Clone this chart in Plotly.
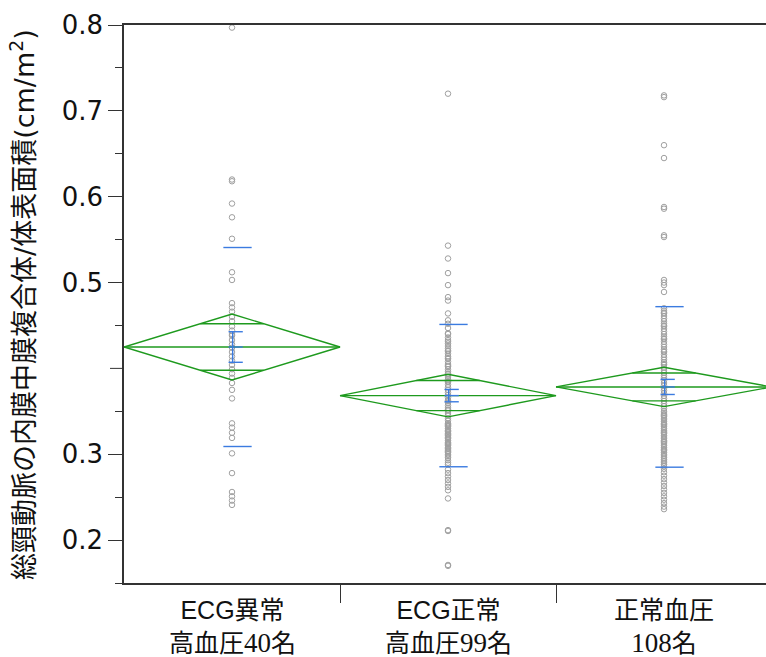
import plotly.graph_objects as go
import math

cat_line1 = ["ECG異常", "ECG正常", "正常血圧"]
cat_line2_cjk = ["高血圧", "高血圧", ""]
cat_line2_num = ["40", "99", "108"]

group1 = [0.797, 0.620, 0.618, 0.592, 0.576, 0.551, 0.512, 0.503, 0.476, 0.471,
          0.466, 0.460, 0.455, 0.449, 0.444, 0.440, 0.438, 0.433, 0.428, 0.424,
          0.419, 0.414, 0.409, 0.404, 0.399, 0.394, 0.389, 0.383, 0.375, 0.365,
          0.336, 0.331, 0.325, 0.319, 0.301, 0.278, 0.256, 0.251, 0.246, 0.241]

group2 = [0.720, 0.543, 0.528, 0.511, 0.497, 0.483, 0.479, 0.464, 0.456, 0.452,
          0.447, 0.441, 0.433, 0.429, 0.426, 0.423, 0.420, 0.417, 0.414, 0.411,
          0.408, 0.405, 0.402, 0.399, 0.396, 0.393, 0.390, 0.387, 0.384, 0.381,
          0.378, 0.375, 0.372, 0.369, 0.366, 0.363, 0.360, 0.357, 0.354, 0.351,
          0.348, 0.345, 0.342, 0.339, 0.336, 0.334, 0.332, 0.330, 0.328, 0.326,
          0.324, 0.322, 0.320, 0.318, 0.316, 0.314, 0.312, 0.310, 0.308, 0.306,
          0.304, 0.302, 0.300, 0.298, 0.335, 0.327, 0.319, 0.311, 0.303, 0.296,
          0.293, 0.290, 0.288, 0.282, 0.278, 0.274, 0.270, 0.266, 0.262, 0.258,
          0.2485, 0.2116, 0.2106, 0.171, 0.170, 0.440, 0.436, 0.431, 0.421, 0.412,
          0.403, 0.394, 0.385, 0.362, 0.352, 0.333, 0.323, 0.313, 0.307]

group3 = [0.718, 0.716, 0.660, 0.645, 0.588, 0.586, 0.555, 0.553, 0.503, 0.500,
          0.497, 0.489, 0.470, 0.467, 0.464, 0.461, 0.458, 0.455, 0.452, 0.449,
          0.446, 0.443, 0.440, 0.437, 0.434, 0.431, 0.428, 0.425, 0.422, 0.419,
          0.416, 0.413, 0.410, 0.407, 0.404, 0.401, 0.398, 0.395, 0.392, 0.389,
          0.386, 0.383, 0.380, 0.377, 0.374, 0.371, 0.368, 0.365, 0.362, 0.359,
          0.356, 0.353, 0.350, 0.348, 0.346, 0.344, 0.342, 0.340, 0.338, 0.336,
          0.334, 0.332, 0.330, 0.328, 0.326, 0.324, 0.322, 0.320, 0.318, 0.316,
          0.314, 0.312, 0.310, 0.308, 0.306, 0.304, 0.302, 0.300, 0.298, 0.296,
          0.294, 0.292, 0.290, 0.288, 0.286, 0.283, 0.279, 0.275, 0.271, 0.267,
          0.263, 0.259, 0.255, 0.251, 0.247, 0.243, 0.239, 0.236, 0.465, 0.450,
          0.435, 0.420, 0.405, 0.345, 0.335, 0.325, 0.315, 0.305]

groups = [group1, group2, group3]

# summary statistics
means = [0.4249, 0.3683, 0.3784]
ci_half = [0.0384, 0.0248, 0.0229]     # 95% CI half-width (diamond)
se = [0.0178, 0.0072, 0.0088]          # std error of mean
sd = [0.1159, 0.0829, 0.0935]          # standard deviation

y_tickvals = [0.2, 0.3, 0.5, 0.6, 0.7, 0.8]
y_ticktext = ["0.2", "0.3", "0.5", "0.6", "0.7", "0.8"]
y_unlabeled_major = [0.4]
y_minor = [0.15, 0.25, 0.35, 0.45, 0.55, 0.65, 0.75]

GREEN = "#1e9a1e"
BLUE = "#3b7be0"
GRAY = "#a0a0a0"

fig = go.Figure()

# data points
for i, g in enumerate(groups):
    fig.add_trace(go.Scatter(
        x=[i] * len(g), y=g, mode="markers",
        marker=dict(symbol="circle-open", size=5.5, color=GRAY, line=dict(width=1, color=GRAY)),
        showlegend=False, hoverinfo="y"))

# means diamonds
ov = 0.5 * (1 - 1 / math.sqrt(2))
for i, (m, c) in enumerate(zip(means, ci_half)):
    fig.add_trace(go.Scatter(
        x=[i - 0.5, i, i + 0.5, i, i - 0.5],
        y=[m, m + c, m, m - c, m],
        mode="lines", line=dict(color=GREEN, width=1.4), showlegend=False, hoverinfo="skip"))
    fig.add_trace(go.Scatter(
        x=[i - 0.5, i + 0.5], y=[m, m], mode="lines",
        line=dict(color=GREEN, width=1.4), showlegend=False, hoverinfo="skip"))
    d = c / math.sqrt(2)
    for yy in (m + d, m - d):
        fig.add_trace(go.Scatter(
            x=[i - ov, i + ov], y=[yy, yy], mode="lines",
            line=dict(color=GREEN, width=1.4), showlegend=False, hoverinfo="skip"))

# std dev lines and mean error bars
for i, (m, s, e) in enumerate(zip(means, sd, se)):
    for yy in (m + s, m - s):
        fig.add_trace(go.Scatter(
            x=[i - 0.04, i + 0.091], y=[yy, yy], mode="lines",
            line=dict(color=BLUE, width=1.4), showlegend=False, hoverinfo="skip"))
    fig.add_trace(go.Scatter(
        x=[i + 0.003, i + 0.003], y=[m - e, m + e], mode="lines",
        line=dict(color=BLUE, width=1.4), showlegend=False, hoverinfo="skip"))
    for yy in (m + e, m, m - e):
        fig.add_trace(go.Scatter(
            x=[i - 0.016, i + 0.05], y=[yy, yy], mode="lines",
            line=dict(color=BLUE, width=1.4), showlegend=False, hoverinfo="skip"))

# unlabeled major tick at 0.4
for v in y_unlabeled_major:
    fig.add_shape(type="line", xref="paper", yref="y",
                  x0=-14 / 642, x1=0, y0=v, y1=v,
                  line=dict(color="#333", width=1))

# category labels
for i in range(3):
    line2 = (cat_line2_cjk[i] + '<span style="font-family:Liberation Serif;font-size:27px">'
             + cat_line2_num[i] + '</span>名')
    fig.add_annotation(
        x=i, xref="x", y=-0.02, yref="paper", yanchor="top", xanchor="center",
        text=cat_line1[i] + "<br>" + line2, showarrow=False,
        font=dict(family="Liberation Sans, Noto Sans CJK JP", size=25, color="#111"))

# y axis title
fig.add_annotation(
    x=-0.159, xref="paper", y=0.50, yref="paper", xanchor="center", yanchor="middle",
    textangle=-90, showarrow=False,
    text="総頸動脈の内膜中膜複合体/体表面積(cm/m<sup>2</sup>)",
    font=dict(family="DejaVu Sans, Noto Sans CJK JP", size=27, color="#111"))

fig.update_xaxes(
    range=[-0.5, 2.5 - 6 / 216], tickvals=[0.5, 1.5], showticklabels=False,
    ticks="outside", ticklen=18, tickwidth=1, tickcolor="#333",
    showline=True, linecolor="#333", linewidth=1.5, mirror=True,
    showgrid=False, zeroline=False)

fig.update_yaxes(
    range=[0.15, 0.8], tickvals=y_tickvals, ticktext=y_ticktext,
    ticks="outside", ticklen=14, tickwidth=1, tickcolor="#333",
    minor=dict(tickvals=y_minor, ticks="outside", ticklen=7, tickwidth=1, tickcolor="#333"),
    showline=True, linecolor="#333", linewidth=1.5, mirror=False,
    showgrid=False, zeroline=False,
    tickfont=dict(family="DejaVu Sans", size=26, color="#111"))

fig.update_layout(
    width=766, height=657,
    margin=dict(l=124, r=0, t=25, b=74),
    plot_bgcolor="white", paper_bgcolor="white",
    showlegend=False)

fig.write_html("out.html")
